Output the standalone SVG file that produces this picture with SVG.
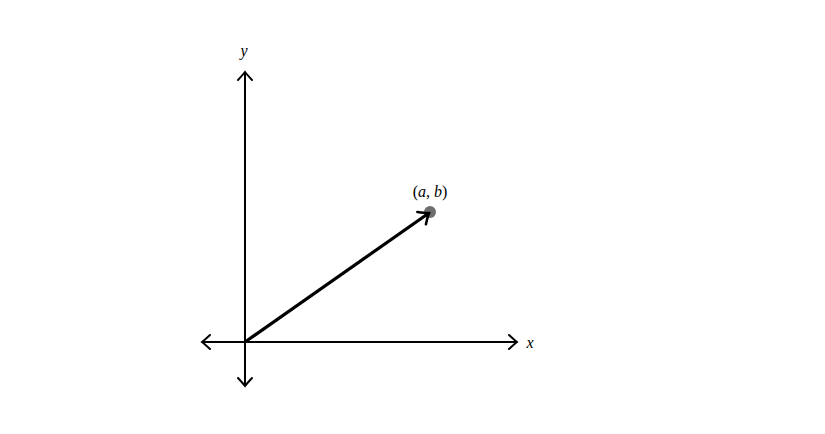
<svg xmlns="http://www.w3.org/2000/svg" width="825" height="434" viewBox="0 0 825 434">
<style>
.ax{stroke:#000;stroke-width:2;fill:none}
.vec{stroke:#000;stroke-width:3.2;fill:none}
.lbl{font-family:"Liberation Serif","DejaVu Serif",serif;font-style:italic;font-size:16px;fill:#000}
.lbl2{font-family:"Liberation Serif","DejaVu Serif",serif;font-size:16px;fill:#000}
</style>
<defs>
<marker id="tip" viewBox="-10 -8 12 16" markerWidth="12" markerHeight="16" refX="0" refY="0" orient="auto-start-reverse" markerUnits="userSpaceOnUse">
<path d="M-8,-7 Q-2,-1.5 0,0 Q-2,1.5 -8,7" fill="none" stroke="#000" stroke-width="2" stroke-linecap="round"/>
</marker>
<marker id="tip2" viewBox="-12 -9 14 18" markerWidth="14" markerHeight="18" refX="0" refY="0" orient="auto" markerUnits="userSpaceOnUse">
<path d="M-9,-7.5 Q-2.5,-1.5 0,0 Q-2.5,1.5 -9,7.5" fill="none" stroke="#000" stroke-width="2.6" stroke-linecap="round"/>
</marker>
</defs>
<rect width="825" height="434" fill="#fff"/>
<g id="connectors">
<line id="x-axis" class="ax" x1="202" y1="342" x2="517" y2="342" marker-start="url(#tip)" marker-end="url(#tip)"/>
<line id="y-axis" class="ax" x1="245" y1="386" x2="245" y2="72" marker-start="url(#tip)" marker-end="url(#tip)"/>
</g>
<g id="point">
<circle cx="430" cy="212" r="6" fill="#6e6e6e"/>
<text class="lbl2" x="430" y="197" text-anchor="middle">(<tspan class="lbl">a</tspan>, <tspan class="lbl">b</tspan>)</text>
</g>
<g id="vector">
<line class="vec" x1="245" y1="342" x2="429" y2="213" marker-end="url(#tip2)"/>
</g>
<g id="labels">
<text class="lbl" x="244" y="56" text-anchor="middle">y</text>
<text class="lbl" x="530" y="348" text-anchor="middle">x</text>
</g>
</svg>
